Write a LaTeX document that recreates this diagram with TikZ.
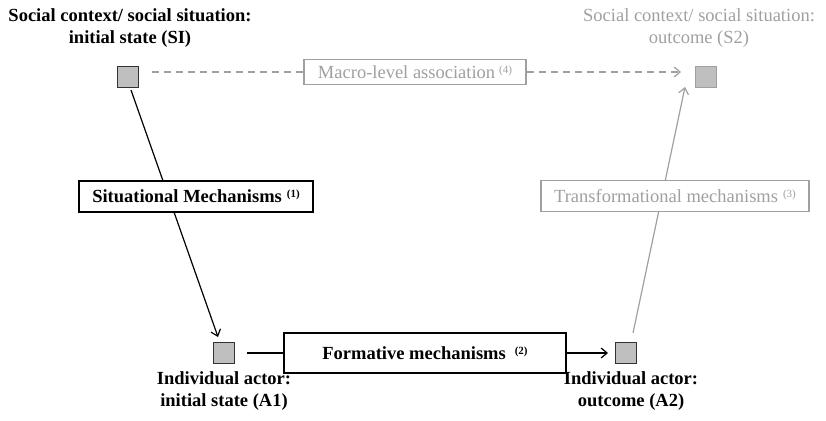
\documentclass[tikz,border=0pt]{standalone}
\usepackage{fontspec}
\setmainfont{Liberation Serif}
\usetikzlibrary{arrows.meta}
\definecolor{soft}{RGB}{160,160,160}
\definecolor{boxfill}{RGB}{191,191,191}
\definecolor{edge}{RGB}{50,50,50}
\newcommand{\marker}[1]{\raisebox{5pt}{\fontsize{11}{11}\selectfont(#1)}}
\begin{document}
\begin{tikzpicture}[x=1pt,y=-1pt,
  every node/.style={font=\fontsize{18.5}{22}\selectfont},
  state/.style={draw=edge,line width=1.5pt,fill=boxfill,minimum size=21pt,inner sep=0pt},
  softstate/.style={state,draw=soft},
  mech/.style={draw=black,line width=2pt,fill=white,minimum height=31pt,inner sep=0pt},
  softmech/.style={mech,draw=soft,line width=1.8pt},
  caption/.style={align=center,inner sep=0pt},
  link/.style={line width=1.2pt},
  tip/.style={-{Straight Barb[length=6pt,width=10pt]}}]
\useasboundingbox (0,0) rectangle (826,420);

% states
\node[state] (SI) at (128,77) {};
\node[softstate] (S2) at (706,77) {};
\node[state] (A1) at (224,353) {};
\node[state] (A2) at (626,353) {};

% captions
\node[caption,font=\fontsize{18.5}{22}\selectfont\bfseries] (tSI) at (130,28)
  {Social context/ social situation:\\initial state (SI)};
\node[caption,text=soft] (tS2) at (699,28)
  {Social context/ social situation:\\outcome (S2)};
\node[caption,font=\fontsize{18.5}{22}\selectfont\bfseries] (tA1) at (224,391)
  {Individual actor:\\initial state (A1)};
\node[caption,font=\fontsize{18.5}{22}\selectfont\bfseries] (tA2) at (631,391)
  {Individual actor:\\outcome (A2)};

% connectors drawn first so the mechanism boxes sit on top
\coordinate (sitStart) at (131,90);
\coordinate (sitEnd) at (218,337);
\draw[link,tip] (sitStart) -- (sitEnd);
\coordinate (trStart) at (633,333);
\coordinate (trEnd) at (685,87);
\draw[link,soft,tip] (trStart) -- (trEnd);

% mechanism boxes
\node[mech,minimum width=234pt] (sit) at (196,196)
  {\bfseries Situational Mechanisms\hspace{5pt}\marker{1}};
\node[softmech,minimum width=268pt,text=soft] (tr) at (675,196)
  {Transformational mechanisms\hspace{5pt}\marker{3}};
\node[mech,minimum width=282pt,minimum height=40pt] (form) at (425,353)
  {\bfseries Formative mechanisms\hspace{9pt}\marker{2}};
\node[softmech,minimum width=222pt,minimum height=25pt,text=soft] (macro) at (415,72)
  {Macro-level association\hspace{4pt}\marker{4}};

% horizontal links
\coordinate (maStart) at (152,72);
\coordinate (maEnd) at (681,72);
\coordinate (a1Out) at (247,353);
\coordinate (a2In) at (608,353);
\draw[link,soft,dash pattern=on 7pt off 5pt] (maStart) -- (macro.west);
\draw[link,soft,dash pattern=on 7pt off 5pt,tip] (macro.east) -- (maEnd);
\draw[link] (a1Out) -- (form.west);
\draw[link,tip] (form.east) -- (a2In);
\end{tikzpicture}
\end{document}
